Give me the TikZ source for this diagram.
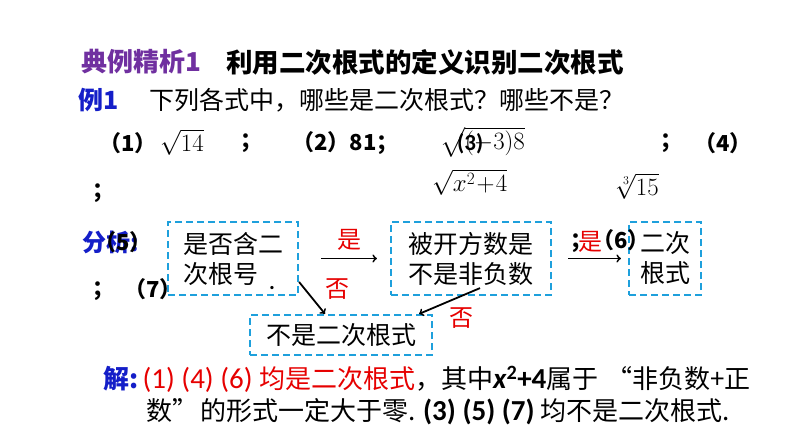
\documentclass[tikz,border=0pt]{standalone}
\usepackage{fontspec}
\usepackage{amsmath}
\usepackage{tikz}
\usetikzlibrary{positioning}
\newfontfamily\cjk{Noto Sans CJK SC}
\newfontfamily\latin{Carlito}
\definecolor{titlepurple}{RGB}{112,48,160}
\definecolor{exblue}{RGB}{20,30,200}
\definecolor{ansred}{RGB}{230,0,0}
\definecolor{boxblue}{RGB}{30,160,220}

\begin{document}
\begin{tikzpicture}[x=1pt,y=-1pt,
    txt/.style={anchor=west, inner sep=0pt, font=\cjk\fontsize{25}{28}\selectfont},
    judgebox/.style={draw=boxblue, line width=2.2pt, dash pattern=on 7pt off 4pt,
        align=left, inner sep=5pt, font=\cjk\fontsize{25}{30}\selectfont},
    yesno/.style={text=ansred, inner sep=0pt, font=\cjk\fontsize{24}{26}\selectfont},
    flow/.style={->, line width=1.8pt}]
    \useasboundingbox (0,0) rectangle (794,447);

    % heading and question
    \node[txt, text=titlepurple, font=\cjk\bfseries\fontsize{26}{28}\selectfont] (head) at (81,62) {典例精析1};
    \node[txt, font=\cjk\bfseries\fontsize{26.5}{28}\selectfont] (topic) at (226,62) {利用二次根式的定义识别二次根式};
    \node[txt, text=exblue, font=\cjk\bfseries\fontsize{25}{28}\selectfont] (ex) at (78,100) {例1};
    \node[txt] (ask) at (149,100) {下列各式中，哪些是二次根式？哪些不是？};

    % the expressions
    \node[txt, font=\cjk\bfseries\fontsize{22}{26}\selectfont] (i1) at (99,143) {（1）};
    \node[txt, font=\fontsize{24}{26}\selectfont] (r1) at (160,142) {$\sqrt{14}$};
    \node[txt, font=\cjk\bfseries\fontsize{22}{26}\selectfont] (s1) at (240,143) {；};
    \node[txt, font=\cjk\bfseries\fontsize{22}{26}\selectfont] (i2) at (292,143) {（2）81；};
    \node[txt, font=\fontsize{24}{26}\selectfont] (r3) at (440,142) {$\sqrt{(-3)8}$};
    \node[txt, font=\latin\bfseries\fontsize{23}{26}\selectfont] (i3) at (457,144) {(3)};
    \node[txt, font=\cjk\bfseries\fontsize{22}{26}\selectfont] (s3) at (660,143) {；};
    \node[txt, font=\cjk\bfseries\fontsize{22}{26}\selectfont] (i4) at (694,143) {（4）};
    \node[txt, font=\cjk\bfseries\fontsize{22}{26}\selectfont] (s4) at (92,193) {；};
    \node[txt, font=\fontsize{24}{26}\selectfont] (r4) at (432,182) {$\sqrt{x^2\!+\!4}$};
    \node[txt, font=\fontsize{24}{26}\selectfont] (r6) at (616,186) {$\sqrt[3]{15}$};

    \node[txt, text=exblue, font=\cjk\bfseries\fontsize{24}{28}\selectfont] (ana) at (82,242) {分析:};
    \node[txt, font=\cjk\bfseries\fontsize{22}{26}\selectfont] (i5) at (94,242) {（5）};
    \node[txt, font=\cjk\bfseries\fontsize{22}{26}\selectfont] (s5) at (92,291) {；};
    \node[txt, font=\cjk\bfseries\fontsize{22}{26}\selectfont] (i7) at (124,289) {（7）};
    \node[txt, font=\latin\bfseries\fontsize{22}{26}\selectfont] (dot) at (269,288) {.};

    % flow chart
    \node[judgebox, minimum width=130pt, minimum height=73pt] (b1) at (233,258.5) {是否含二\\次根号};
    \node[judgebox, minimum width=160pt, minimum height=73pt] (b2) at (471,258.5) {被开方数是\\不是非负数};
    \node[judgebox, minimum width=72pt, minimum height=73pt] (b3) at (665,258.5) {二次\\根式};
    \node[judgebox, minimum width=182pt, minimum height=40pt] (b4) at (341,335) {不是二次根式};

    \node[txt, font=\cjk\bfseries\fontsize{22}{26}\selectfont] (i6) at (570,241) {；（6）};

    \draw[flow, shorten <=22pt, shorten >=13pt] (b1) -- (b2);
    \draw[flow, shorten <=16pt, shorten >=7pt] (b2) -- (b3);
    \draw[flow] ([yshift=-23.5pt]b1.east) -- ([xshift=-16pt]b4.north);
    \draw[flow] ([xshift=9pt, yshift=8pt]b2.south) -- ([xshift=-14pt]b4.north east);

    \node[yesno] (y1) at (349,240) {是};
    \node[yesno] (n1) at (337,289) {否};
    \node[yesno] (y2) at (590,242) {是};
    \node[yesno] (n2) at (461,318) {否};

    % answer
    \node[txt, font=\cjk\fontsize{26}{28}\selectfont] (sol1) at (103,379) {{\color{exblue}\bfseries 解:}\,{\color{ansred}\latin\fontsize{29}{28}\selectfont (1) (4) (6) \cjk\fontsize{26}{28}\selectfont 均是二次根式}，其中{\latin\bfseries\itshape\fontsize{29}{28}\selectfont x}{\latin\bfseries\fontsize{29}{28}\selectfont\textsuperscript{2}+4}属于\hspace{8pt}“非负数+正};
    \node[txt, font=\cjk\fontsize{26}{28}\selectfont] (sol2) at (146,412) {数”\hspace{2pt}的形式一定大于零. {\latin\bfseries\fontsize{29}{28}\selectfont (3) (5) (7)} 均不是二次根式.};
\end{tikzpicture}
\end{document}
